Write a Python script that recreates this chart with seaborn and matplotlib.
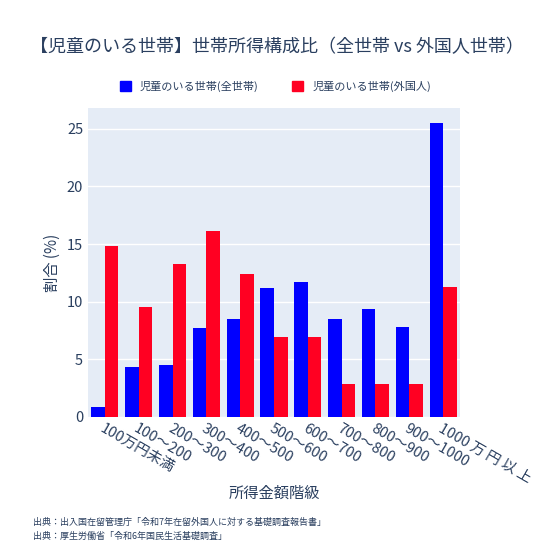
import matplotlib
matplotlib.use("Agg")
import matplotlib.pyplot as plt
import seaborn as sns
import pandas as pd

categories = ["100万円未満", "100～200", "200～300", "300～400", "400～500", "500～600",
              "600～700", "700～800", "800～900", "900～1000", "1000 万 円 以 上"]
all_households = [0.9, 4.3, 4.5, 7.7, 8.5, 11.2, 11.7, 8.5, 9.4, 7.8, 25.5]
foreign_households = [14.8, 9.5, 13.3, 16.1, 12.4, 6.9, 6.9, 2.9, 2.9, 2.9, 11.3]
series_names = ["児童のいる世帯(全世帯)", "児童のいる世帯(外国人)"]

df = pd.DataFrame({
    "cat": categories * 2,
    "val": all_households + foreign_households,
    "series": [series_names[0]] * len(categories) + [series_names[1]] * len(categories),
})

sns.set_theme(style="white")
plt.rcParams['font.family'] = ['Noto Sans CJK JP', 'DejaVu Sans']

fig = plt.figure(figsize=(5.51, 5.50), dpi=100)
ax = fig.add_axes([88/551, 1-417/550, (460-88)/551, (417-108)/550])
ax.set_facecolor("#E5ECF6")
sns.barplot(data=df, x="cat", y="val", hue="series", palette=["#0000FF", "#FF0022"],
            ax=ax, width=0.8, saturation=1, legend=False, zorder=3, linewidth=0)
ax.set_ylim(0, 26.8)
ax.set_xlim(-0.5, len(categories) - 0.5)
ax.set_yticks([0, 5, 10, 15, 20, 25])
ax.yaxis.grid(True, color="white", linewidth=1, zorder=0)
for s in ax.spines.values():
    s.set_visible(False)
ax.tick_params(axis="both", length=0, labelsize=10.5, colors="#2a3f5f")
plt.setp(ax.get_xticklabels(), rotation=-30, ha="left", rotation_mode="anchor")
ax.set_xlabel("所得金額階級", fontsize=11, color="#2a3f5f", labelpad=8)
ax.set_ylabel("割合 (%)", fontsize=11, color="#2a3f5f")
ax.xaxis.set_label_coords(0.5, -0.22)

fig.text(30/551, 1-47/550, "【児童のいる世帯】世帯所得構成比（全世帯 vs 外国人世帯）",
         fontsize=13, color="#2a3f5f", va="center")
from matplotlib.patches import Patch
handles = [Patch(color="#0000FF"), Patch(color="#FF0022")]
fig.legend(handles, series_names, loc="center", bbox_to_anchor=(0.5, 1-86/550), ncol=2,
           frameon=False, fontsize=8, labelcolor="#2a3f5f", handlelength=1, handleheight=1,
           columnspacing=3)
fig.text(33/551, 1-522/550, "出典：出入国在留管理庁「令和7年在留外国人に対する基礎調査報告書」",
         fontsize=6.5, color="#2a3f5f", va="center")
fig.text(33/551, 1-536/550, "出典：厚生労働省「令和6年国民生活基礎調査」",
         fontsize=6.5, color="#2a3f5f", va="center")
fig.savefig("out.png", dpi=100)
